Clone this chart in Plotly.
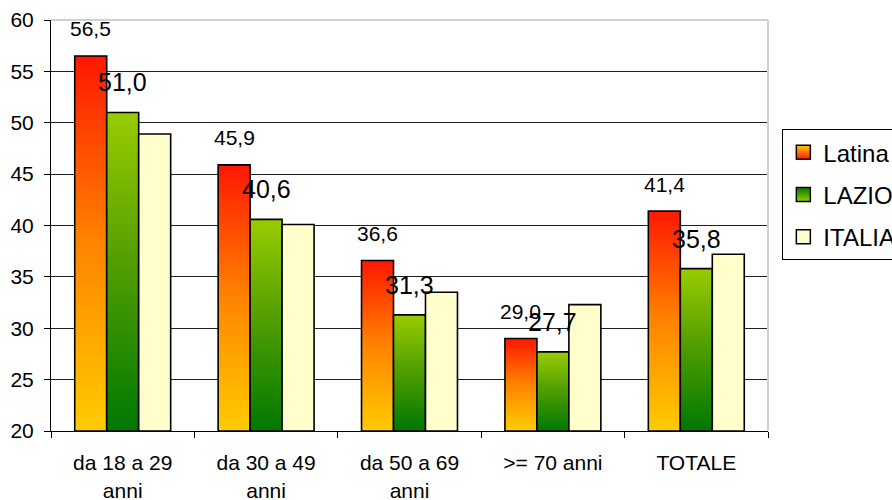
import plotly.graph_objects as go

# Age bands and values per area
categories = ["da 18 a 29<br>anni", "da 30 a 49<br>anni", "da 50 a 69<br>anni", ">= 70 anni", "TOTALE"]
latina = [56.5, 45.9, 36.6, 29.0, 41.4]
lazio = [51.0, 40.6, 31.3, 27.7, 35.8]
italia = [48.9, 40.1, 33.5, 32.3, 37.2]
y_tick_values = [20, 25, 30, 35, 40, 45, 50, 55, 60]

FONT = "Liberation Sans, Arial, sans-serif"
BASE = 20
BAR_W = 0.223

latina_scale = [[0, "#ffcc00"], [0.5, "#ff8400"], [1, "#ff1800"]]
lazio_scale = [[0, "#007800"], [0.55, "#55a000"], [1, "#99cc00"]]

series = [
    ("Latina", latina, dict(fillgradient=dict(type="vertical", colorscale=latina_scale)),
     dict(color="#ffcc00", gradient=dict(type="vertical", color="#ff1800"))),
    ("LAZIO", lazio, dict(fillgradient=dict(type="vertical", colorscale=lazio_scale)),
     dict(color="#007800", gradient=dict(type="vertical", color="#99cc00"))),
    ("ITALIA", italia, dict(fillcolor="#ffffcc"), dict(color="#ffffcc")),
]

fig = go.Figure()

for s, (name, values, fill_style, marker_style) in enumerate(series):
    offset = (s - 1) * BAR_W
    for i, v in enumerate(values):
        x0 = i + offset - BAR_W / 2
        x1 = i + offset + BAR_W / 2
        fig.add_trace(go.Scatter(
            x=[x0, x0, x1, x1, x0],
            y=[BASE, v, v, BASE, BASE],
            mode="lines",
            fill="toself",
            line=dict(color="black", width=1.6),
            hoverinfo="skip",
            showlegend=False,
            legendgroup=name,
            **fill_style,
        ))
    # legend entry
    fig.add_trace(go.Scatter(
        x=[None], y=[None], mode="markers", name=name, legendgroup=name,
        marker=dict(symbol="square", size=14, line=dict(color="black", width=1.5), **marker_style),
    ))

annotations = []
for i, v in enumerate(latina):
    annotations.append(dict(
        x=i - BAR_W, y=v, xref="x", yref="y", text=f"{v:.1f}".replace(".", ","),
        showarrow=False, yanchor="middle", yshift=27,
        font=dict(family=FONT, size=21, color="black"),
    ))
for i, v in enumerate(lazio):
    annotations.append(dict(
        x=i, y=v, xref="x", yref="y", text=f"{v:.1f}".replace(".", ","),
        showarrow=False, yanchor="middle", yshift=30,
        font=dict(family=FONT, size=25, color="black"),
    ))

boundaries = [i - 0.5 for i in range(len(categories) + 1)]

fig.update_layout(
    width=892, height=500,
    margin=dict(l=51, r=124, t=20, b=69, autoexpand=False),
    paper_bgcolor="white", plot_bgcolor="white",
    font=dict(family=FONT, size=21, color="black"),
    showlegend=True,
    legend=dict(
        x=1.02, xanchor="left",
        y=0.575, yanchor="middle",
        bordercolor="black", borderwidth=1, bgcolor="white",
        font=dict(family=FONT, size=24, color="black"),
        traceorder="grouped", tracegroupgap=8,
    ),
    annotations=annotations,
    shapes=[
        dict(type="line", xref="paper", yref="paper", x0=0, x1=1, y0=1, y1=1,
             line=dict(color="#d0d0d0", width=2), layer="above"),
        dict(type="line", xref="paper", yref="paper", x0=1, x1=1, y0=0, y1=1,
             line=dict(color="#d0d0d0", width=2), layer="above"),
    ],
)

fig.update_xaxes(
    range=[-0.5, len(categories) - 0.5],
    tickmode="array", tickvals=list(range(len(categories))), ticktext=categories,
    ticks="outside", ticklen=13, tickcolor="rgba(0,0,0,0)",
    showgrid=False, zeroline=False, automargin=False,
    showline=True, linecolor="black", linewidth=1,
    minor=dict(tickmode="array", tickvals=boundaries, ticks="outside", ticklen=6,
               tickcolor="black", tickwidth=1, showgrid=False),
    tickfont=dict(family=FONT, size=21, color="black"),
    fixedrange=True,
)
fig.update_yaxes(
    range=[20, 60], tickmode="array", tickvals=y_tick_values,
    ticks="outside", ticklen=6, tickcolor="black",
    ticklabelstandoff=6, automargin=False,
    showgrid=True, gridcolor="#202020", gridwidth=1, zeroline=False,
    showline=True, linecolor="black", linewidth=1,
    tickfont=dict(family=FONT, size=21, color="black"),
    fixedrange=True,
)

fig.write_html("out.html")
